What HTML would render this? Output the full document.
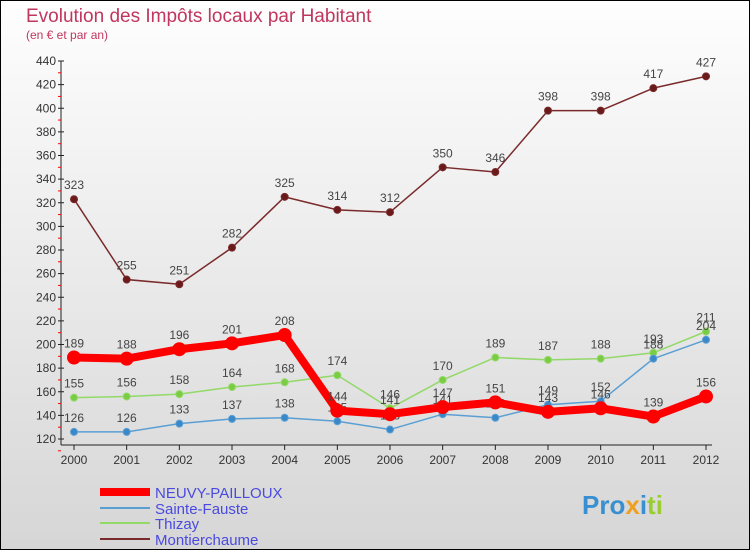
<!DOCTYPE html>
<html><head><meta charset="utf-8"><style>
body{margin:0}
svg{display:block;font-family:"Liberation Sans",sans-serif}
</style></head><body>
<svg id="c" width="750" height="550">
<defs><linearGradient id="bg" x1="0" y1="0" x2="0" y2="1"><stop offset="0" stop-color="#fefefe"/><stop offset="1" stop-color="#d6d6d6"/></linearGradient></defs>
<rect x="0.5" y="0.5" width="749" height="549" fill="url(#bg)" stroke="#000"/>
<text x="26" y="22" font-size="19" fill="#c0365e">Evolution des Impôts locaux par Habitant</text>
<text x="26" y="39" font-size="12" fill="#c0365e">(en € et par an)</text>
<g id="axes"></g><g id="series"></g>
<g font-size="15" fill="#4a4ae0">
<line x1="100" y1="492" x2="150" y2="492" stroke="#f00" stroke-width="8"/>
<text x="155" y="498">NEUVY-PAILLOUX</text>
<line x1="100" y1="508" x2="150" y2="508" stroke="#5a9fd4" stroke-width="2"/>
<text x="155" y="514">Sainte-Fauste</text>
<line x1="100" y1="523" x2="150" y2="523" stroke="#92d968" stroke-width="2"/>
<text x="155" y="529">Thizay</text>
<line x1="100" y1="539" x2="150" y2="539" stroke="#7a2a2a" stroke-width="2"/>
<text x="155" y="545">Montierchaume</text>
</g>
<text x="582" y="514" font-size="26" font-weight="bold" fill="#3a8fd0">Pro<tspan fill="#f0a020">x</tspan><tspan fill="#3a8fd0">i</tspan><tspan fill="#9acd32">ti</tspan></text>
</svg>
<script>
const years=[2000,2001,2002,2003,2004,2005,2006,2007,2008,2009,2010,2011,2012];
const yTicks=[120,140,160,180,200,220,240,260,280,300,320,340,360,380,400,420,440];
const neuvy=[189,188,196,201,208,144,141,147,151,143,146,139,156];
const sainte=[126,126,133,137,138,135,128,141,138,149,152,188,204];
const thizay=[155,156,158,164,168,174,146,170,189,187,188,193,211];
const montier=[323,255,251,282,325,314,312,350,346,398,398,417,427];
const NS="http://www.w3.org/2000/svg";
const X=i=>74+i*(706-74)/12;
const Y=v=>439-(v-120)*(439-61)/320;
function mk(t,a,p){const e=document.createElementNS(NS,t);for(const k in a)e.setAttribute(k,a[k]);p.appendChild(e);return e;}
const ax=document.getElementById('axes');
let l=mk('line',{x1:61,y1:61,x2:61,y2:445,stroke:'#222'},ax);


l=mk('line',{x1:61,y1:445,x2:712,y2:445,stroke:'#222'},ax);


yTicks.forEach(v=>{const y=Y(v);
mk('line',{x1:58,y1:y,x2:64,y2:y,stroke:'#222'},ax);
mk('line',{x1:58,y1:y+11.8,x2:61,y2:y+11.8,stroke:'#f00'},ax);
const t=mk('text',{x:56,y:y+4,'font-size':12,fill:'#333','text-anchor':'end'},ax);t.textContent=v;

});
years.forEach((yr,i)=>{const x=X(i);mk('line',{x1:x,y1:445,x2:x,y2:450,stroke:'#222'},ax);
const t=mk('text',{x:x,y:464,'font-size':12,fill:'#333','text-anchor':'middle'},ax);t.textContent=yr;

});
const sg=document.getElementById('series');
function draw(d,name,col,w,r,dot,lab){
const g=mk('g',{},sg);


const p=mk('polyline',{points:d.map((v,i)=>X(i)+','+Y(v)).join(' '),fill:'none',stroke:col,'stroke-width':w,'stroke-linejoin':'round'},g);


d.forEach((v,i)=>{const c=mk('circle',{cx:X(i),cy:Y(v),r:r,fill:dot,stroke:col,'stroke-width':1},g);


const t=mk('text',{x:X(i),y:Y(v)-10,'font-size':12,fill:'#444','text-anchor':'middle'},g);t.textContent=v;

});}
draw(montier,'montierchaume','#7a2a2a',1.5,3.5,'#6a1a1a');
draw(thizay,'thizay','#92d968',1.5,3.5,'#7acc44');
draw(sainte,'sainte-fauste','#5a9fd4',1.5,3.5,'#3a88c8');
draw(neuvy,'neuvy-pailloux','#f00',8,6.5,'#f00');
</script>
</body></html>
